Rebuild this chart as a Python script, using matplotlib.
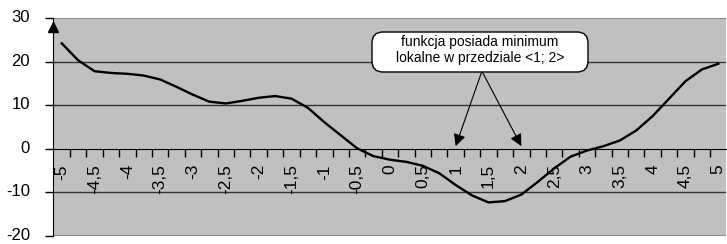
import matplotlib
matplotlib.use('Agg')
import matplotlib.pyplot as plt
import matplotlib.transforms as mtrans
from matplotlib.patches import FancyBboxPatch
from matplotlib import font_manager
import numpy as np

# x values -5..5 step 0.25 (category axis, label every second one)
x_vals = [-5, -4.75, -4.5, -4.25, -4, -3.75, -3.5, -3.25, -3, -2.75,
          -2.5, -2.25, -2, -1.75, -1.5, -1.25, -1, -0.75, -0.5, -0.25,
          0, 0.25, 0.5, 0.75, 1, 1.25, 1.5, 1.75, 2, 2.25,
          2.5, 2.75, 3, 3.25, 3.5, 3.75, 4, 4.25, 4.5, 4.75, 5]
y_vals = [24.2, 20.3, 17.8, 17.4, 17.2, 16.8, 15.9, 14.2, 12.4, 10.8,
          10.4, 11.0, 11.7, 12.1, 11.5, 9.4, 6.1, 3.1, 0.1, -1.7,
          -2.5, -3.0, -3.9, -5.6, -8.3, -10.7, -12.3, -12.0, -10.5, -7.6,
          -4.5, -1.8, -0.4, 0.6, 1.9, 4.2, 7.5, 11.5, 15.5, 18.2, 19.5]
y_ticks = [-20, -10, 0, 10, 20, 30]
note = "funkcja posiada minimum\nlokalne w przedziale <1; 2>"

plt.rcParams['font.family'] = ['Liberation Sans', 'DejaVu Sans']
try:
    font_manager.findfont('Liberation Sans Narrow', fallback_to_default=False)
    note_font = ['Liberation Sans Narrow', 'DejaVu Sans']
    note_size = 11.5
except Exception:
    note_font = ['Liberation Sans', 'DejaVu Sans']
    note_size = 10

fig = plt.figure(figsize=(7.27, 2.44), dpi=100)
ax = fig.add_axes([53.5 / 727, 8 / 244, 673 / 727, 218 / 244])
ax.set_facecolor('#c0c0c0')

idx = np.arange(len(x_vals))
ax.set_xlim(-0.5, len(x_vals) - 0.5)
ax.set_ylim(-20, 30)

for yv in y_ticks:
    if yv in (-20, 30):
        ax.axhline(yv, color='#808080', lw=1.2, zorder=1)
    elif yv != 0:
        ax.axhline(yv, color='#333333', lw=1.0, zorder=1)

ax.plot(idx, y_vals, color='black', lw=1.7, zorder=3)

# axes styling
for s in ['top', 'right']:
    ax.spines[s].set_visible(False)
ax.spines['left'].set_color('black')
ax.spines['bottom'].set_position(('data', 0))
ax.spines['bottom'].set_color('black')

ax.set_yticks(y_ticks)
ax.set_yticklabels([str(v) for v in y_ticks])
ax.tick_params(axis='y', length=6, width=1, pad=11, labelsize=12)
shift = mtrans.ScaledTranslation(0, 2 / 100, fig.dpi_scale_trans)
for lab in ax.get_yticklabels():
    lab.set_transform(lab.get_transform() + shift)

lab_idx = idx[::2]
labels = [('%g' % v).replace('.', ',') for v in x_vals[::2]]
ax.set_xticks(lab_idx)
ax.set_xticklabels(labels, rotation=90, va='top', ha='center')
ax.set_xticks(np.arange(0.5, len(x_vals) - 0.5, 1.0), minor=True)
ax.tick_params(axis='x', which='major', length=0, pad=11, labelsize=12.5)
ax.tick_params(axis='x', which='minor', length=6, width=1, direction='out')

# arrow head on top of the y axis
ax.plot([0], [28.0], marker='^', color='black', markersize=7,
        transform=ax.get_yaxis_transform(), clip_on=False, zorder=5)

# callout box
box = FancyBboxPatch((3.72, 1.72), 2.16, 0.40,
                     boxstyle='round,pad=0,rounding_size=0.11',
                     transform=fig.dpi_scale_trans, facecolor='white',
                     edgecolor='black', lw=1.0, zorder=6)
fig.patches.append(box)
fig.text(480 / 727, 1 - 50 / 244, note, ha='center', va='center',
         family=note_font, fontsize=note_size, linespacing=1.15, zorder=7)

start = (25.6, 17.8)
for tip in (24, 28):
    ax.annotate('', xy=(tip, 0.6), xytext=start,
                arrowprops=dict(arrowstyle='-|>', color='black', lw=0.8,
                                mutation_scale=18, shrinkA=0, shrinkB=0),
                zorder=5)

fig.savefig('out.png', dpi=100)
